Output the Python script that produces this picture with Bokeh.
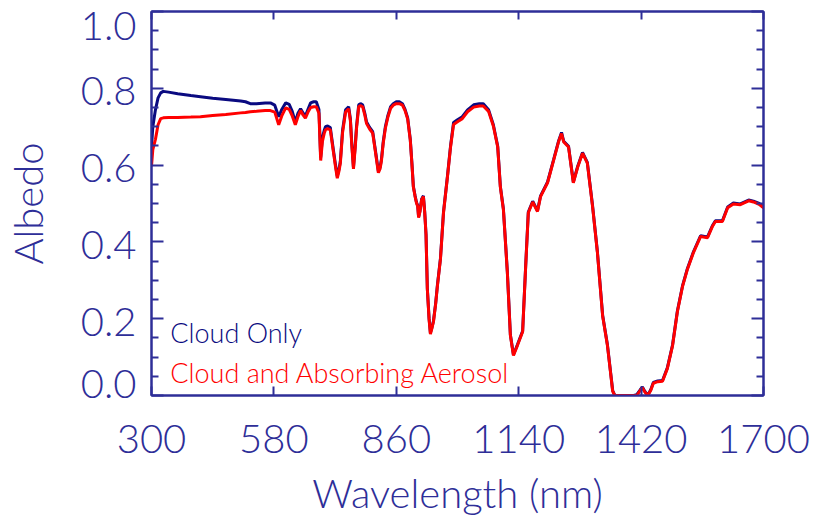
from bokeh.plotting import figure
from bokeh.models import LinearAxis, FixedTicker, Range1d, Label
from bokeh.embed import file_html
from bokeh.resources import INLINE

# ---------------- data ----------------
wavelength = [
    300, 303, 309, 315, 321, 327, 339, 360, 390, 412, 440, 470, 504, 515, 526, 540,
    560, 572, 582, 591, 598, 607, 615, 622, 629, 635, 641, 647, 652, 658, 664, 671,
    677, 683, 687, 691, 695, 698, 703, 709, 716, 721, 725, 729, 732, 737, 744, 751,
    755, 758, 762, 766, 769, 774, 778, 783, 788, 792, 799, 806, 812, 819, 823, 826,
    830, 835, 841, 847, 853, 860, 867, 874, 880, 886, 892, 896, 899, 903, 906, 909,
    911, 914, 918, 922, 925, 928, 931, 935, 938, 941, 945, 950, 954, 961, 968, 977,
    984, 991, 1000, 1011, 1023, 1037, 1050, 1059, 1071, 1082, 1092, 1098, 1105, 1114, 1121, 1128,
    1137, 1149, 1156, 1162, 1172, 1183, 1190, 1206, 1220, 1231, 1238, 1243, 1254, 1265, 1275, 1286,
    1297, 1309, 1320, 1332, 1343, 1355, 1360, 1403, 1410, 1418, 1423, 1428, 1435, 1442, 1448, 1458,
    1469, 1480, 1492, 1503, 1515, 1526, 1540, 1556, 1572, 1583, 1590, 1606, 1618, 1631, 1647, 1666,
    1677, 1690, 1700,
]

albedo_cloud_only = [
    0.646, 0.700, 0.744, 0.775, 0.788, 0.792, 0.790, 0.786, 0.781, 0.778, 0.774, 0.771, 0.767, 0.765, 0.760, 0.760,
    0.762, 0.762, 0.756, 0.726, 0.745, 0.762, 0.758, 0.740, 0.712, 0.735, 0.747, 0.735, 0.728, 0.745, 0.762, 0.765,
    0.765, 0.745, 0.620, 0.672, 0.690, 0.700, 0.702, 0.698, 0.640, 0.600, 0.571, 0.590, 0.610, 0.690, 0.744, 0.752,
    0.720, 0.659, 0.594, 0.650, 0.700, 0.757, 0.760, 0.757, 0.735, 0.712, 0.698, 0.687, 0.640, 0.584, 0.595, 0.615,
    0.660, 0.700, 0.730, 0.752, 0.760, 0.765, 0.765, 0.760, 0.745, 0.723, 0.667, 0.600, 0.545, 0.520, 0.504, 0.494,
    0.465, 0.480, 0.512, 0.520, 0.478, 0.420, 0.279, 0.200, 0.163, 0.175, 0.194, 0.240, 0.287, 0.357, 0.478, 0.571,
    0.649, 0.711, 0.718, 0.726, 0.744, 0.757, 0.760, 0.760, 0.744, 0.705, 0.649, 0.545, 0.486, 0.323, 0.158, 0.106,
    0.132, 0.168, 0.339, 0.478, 0.506, 0.481, 0.520, 0.556, 0.615, 0.662, 0.685, 0.662, 0.649, 0.556, 0.597, 0.633,
    0.607, 0.494, 0.375, 0.209, 0.132, 0.013, 0.000, 0.000, 0.002, 0.015, 0.022, 0.012, 0.000, 0.015, 0.034, 0.038,
    0.039, 0.072, 0.132, 0.220, 0.287, 0.331, 0.375, 0.416, 0.413, 0.442, 0.455, 0.455, 0.491, 0.501, 0.499, 0.509,
    0.506, 0.500, 0.491,
]

albedo_cloud_aerosol = [
    0.597, 0.640, 0.667, 0.705, 0.721, 0.723, 0.724, 0.724, 0.725, 0.726, 0.729, 0.732, 0.736, 0.737, 0.739, 0.740,
    0.742, 0.742, 0.738, 0.705, 0.728, 0.749, 0.745, 0.728, 0.705, 0.726, 0.742, 0.730, 0.722, 0.738, 0.750, 0.752,
    0.752, 0.735, 0.612, 0.662, 0.682, 0.692, 0.695, 0.692, 0.635, 0.595, 0.566, 0.585, 0.605, 0.684, 0.738, 0.747,
    0.715, 0.655, 0.590, 0.645, 0.695, 0.752, 0.755, 0.752, 0.730, 0.708, 0.694, 0.683, 0.636, 0.580, 0.591, 0.611,
    0.656, 0.696, 0.726, 0.748, 0.756, 0.760, 0.760, 0.756, 0.742, 0.720, 0.665, 0.598, 0.543, 0.518, 0.502, 0.492,
    0.463, 0.478, 0.510, 0.518, 0.476, 0.418, 0.277, 0.198, 0.160, 0.173, 0.192, 0.238, 0.285, 0.355, 0.476, 0.569,
    0.646, 0.706, 0.713, 0.721, 0.739, 0.751, 0.754, 0.754, 0.740, 0.702, 0.647, 0.543, 0.484, 0.321, 0.156, 0.104,
    0.130, 0.166, 0.337, 0.476, 0.504, 0.479, 0.518, 0.554, 0.613, 0.660, 0.682, 0.660, 0.647, 0.554, 0.595, 0.631,
    0.605, 0.492, 0.373, 0.207, 0.130, 0.011, 0.000, 0.000, 0.000, 0.013, 0.020, 0.010, 0.000, 0.013, 0.032, 0.036,
    0.037, 0.070, 0.130, 0.218, 0.285, 0.329, 0.373, 0.414, 0.411, 0.440, 0.453, 0.453, 0.489, 0.499, 0.497, 0.507,
    0.504, 0.498, 0.489,
]

x_ticks = [300, 580, 860, 1140, 1420, 1700]
x_tick_labels = ["300", "580", "860", "1140", "1420", "1700"]
y_ticks = [0.0, 0.2, 0.4, 0.6, 0.8, 1.0]
y_minor_ticks = [0.05, 0.1, 0.15, 0.25, 0.3, 0.35, 0.45, 0.5, 0.55, 0.65, 0.7, 0.75, 0.85, 0.9, 0.95]
y_tick_labels = ["0.0", "0.2", "0.4", "0.6", "0.8", "1.0"]
# where the y labels sit (IDL nudges the end labels inward)
y_label_positions = [0.031, 0.191, 0.391, 0.592, 0.792, 0.962]
series_names = ["Cloud Only", "Cloud and Absorbing Aerosol"]

# ---------------- style ----------------
AX = "#2e2e98"
BLUE = "#0a0a80"
RED = "#ff0000"
FONT = "'Lato Light', 'Open Sans Light', 'Noto Sans Light', 'DejaVu Sans'"

p = figure(width=814, height=519, output_backend="svg", toolbar_location=None,
           x_range=Range1d(300, 1700), y_range=Range1d(0, 1),
           x_axis_location=None, y_axis_location=None,
           min_border_left=151, min_border_right=51, min_border_top=11, min_border_bottom=121)
p.grid.visible = False
p.xgrid.visible = False
p.ygrid.visible = False
p.outline_line_color = AX
p.outline_line_width = 2
p.background_fill_color = "white"
p.border_fill_color = "white"

def tick_axis(ticks, minor, major_in):
    return LinearAxis(ticker=FixedTicker(ticks=ticks, minor_ticks=minor),
                      major_label_overrides={t: "" for t in ticks},
                      major_label_standoff=0, major_label_text_font_size="1px",
                      axis_line_color=AX, axis_line_width=2,
                      major_tick_in=major_in, major_tick_out=0,
                      minor_tick_in=7, minor_tick_out=0,
                      major_tick_line_color=AX, major_tick_line_width=2,
                      minor_tick_line_color=AX, minor_tick_line_width=2)

# bottom axis with labels
bottom = LinearAxis(ticker=FixedTicker(ticks=x_ticks, minor_ticks=[]),
                    major_label_overrides={t: s for t, s in zip(x_ticks, x_tick_labels)},
                    axis_line_color=AX, axis_line_width=2,
                    major_tick_in=9, major_tick_out=0, minor_tick_in=0, minor_tick_out=0,
                    major_tick_line_color=AX, major_tick_line_width=2,
                    major_label_standoff=29,
                    major_label_text_font=FONT, major_label_text_font_size="40px",
                    major_label_text_color=AX,
                    axis_label="Wavelength (nm)", axis_label_standoff=13,
                    axis_label_text_font=FONT, axis_label_text_font_size="40px",
                    axis_label_text_font_style="normal", axis_label_text_color=AX)
p.add_layout(bottom, "below")
p.add_layout(tick_axis(x_ticks, [], 8), "above")

p.add_layout(tick_axis(y_ticks, y_minor_ticks, 12), "left")
p.add_layout(tick_axis(y_ticks, y_minor_ticks, 12), "right")

left_labels = LinearAxis(ticker=FixedTicker(ticks=y_label_positions, minor_ticks=[]),
                         major_label_overrides={t: s for t, s in zip(y_label_positions, y_tick_labels)},
                         axis_line_color=None, major_tick_line_color=None, minor_tick_line_color=None,
                         major_tick_in=0, major_tick_out=0,
                         major_label_standoff=15,
                         major_label_text_font=FONT, major_label_text_font_size="40px",
                         major_label_text_color=AX,
                         axis_label="Albedo", axis_label_standoff=26,
                         axis_label_text_font=FONT, axis_label_text_font_size="40px",
                         axis_label_text_font_style="normal", axis_label_text_color=AX)
p.add_layout(left_labels, "left")

p.line(wavelength, albedo_cloud_only, line_color=BLUE, line_width=3)
p.line(wavelength, albedo_cloud_aerosol, line_color=RED, line_width=3)

p.add_layout(Label(x=343, y=0.163, text=series_names[0], text_color=BLUE,
                   text_font=FONT, text_font_size="27px", text_baseline="alphabetic"))
p.add_layout(Label(x=343, y=0.060, text=series_names[1], text_color=RED,
                   text_font=FONT, text_font_size="27px", text_baseline="alphabetic"))

open("out.html", "w").write(file_html(p, INLINE))
